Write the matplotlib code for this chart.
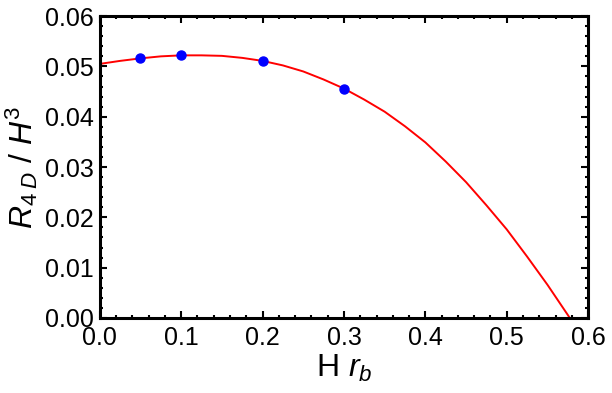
import matplotlib
matplotlib.use("Agg")
from matplotlib import pyplot as plt
from matplotlib.ticker import MultipleLocator

# fitted curve
curve_x = [0.0, 0.025, 0.05, 0.075, 0.1, 0.125, 0.15, 0.175, 0.2, 0.225, 0.25, 0.275,
           0.3, 0.325, 0.35, 0.375, 0.4, 0.425, 0.45, 0.475, 0.5, 0.525, 0.55, 0.5775]
curve_y = [0.0505, 0.0511, 0.0516, 0.0520, 0.0522, 0.0522, 0.0521, 0.0517, 0.0511, 0.0502,
           0.0490, 0.0474, 0.0456, 0.0434, 0.0410, 0.0381, 0.0349, 0.0311, 0.0270, 0.0224,
           0.0176, 0.0122, 0.0066, 0.0]

# data points
pts_x = [0.05, 0.1, 0.2, 0.3]
pts_y = [0.0516, 0.0523, 0.0510, 0.0456]

plt.rcParams['font.family'] = ['Liberation Sans', 'DejaVu Sans']
plt.rcParams['mathtext.fontset'] = 'custom'
plt.rcParams['mathtext.rm'] = 'Liberation Sans'
plt.rcParams['mathtext.it'] = 'Liberation Sans:italic'

fig = plt.figure(figsize=(6.12, 3.93), dpi=100)
ax = fig.add_axes([0.163, 0.191, 0.798, 0.768])

ax.plot(curve_x, curve_y, color='red', lw=1.4, zorder=2)
ax.plot(pts_x, pts_y, 'o', color='blue', ms=6.5, zorder=3)

ax.set_xlim(0, 0.6)
ax.set_ylim(0, 0.06)
ax.xaxis.set_major_locator(MultipleLocator(0.1))
ax.xaxis.set_minor_locator(MultipleLocator(0.02))
ax.yaxis.set_major_locator(MultipleLocator(0.01))
ax.yaxis.set_minor_locator(MultipleLocator(0.002))
ax.xaxis.set_major_formatter(lambda v, p: "%.1f" % v)
ax.yaxis.set_major_formatter(lambda v, p: "%.2f" % v)

ax.tick_params(which='both', direction='in', top=True, right=True, width=1.5, labelsize=18, color='black')
ax.tick_params(which='major', length=5)
ax.tick_params(which='minor', length=2.5)
ax.tick_params(axis='x', which='major', pad=6)
ax.tick_params(axis='y', which='major', pad=4)
for s in ax.spines.values():
    s.set_linewidth(2.2)

ax.set_xlabel("H $r_b$", fontsize=23, labelpad=2)
ax.set_ylabel("$R_{4\\;D}$ / $H^3$", fontsize=23, labelpad=4)

fig.savefig("out.png", dpi=100)
